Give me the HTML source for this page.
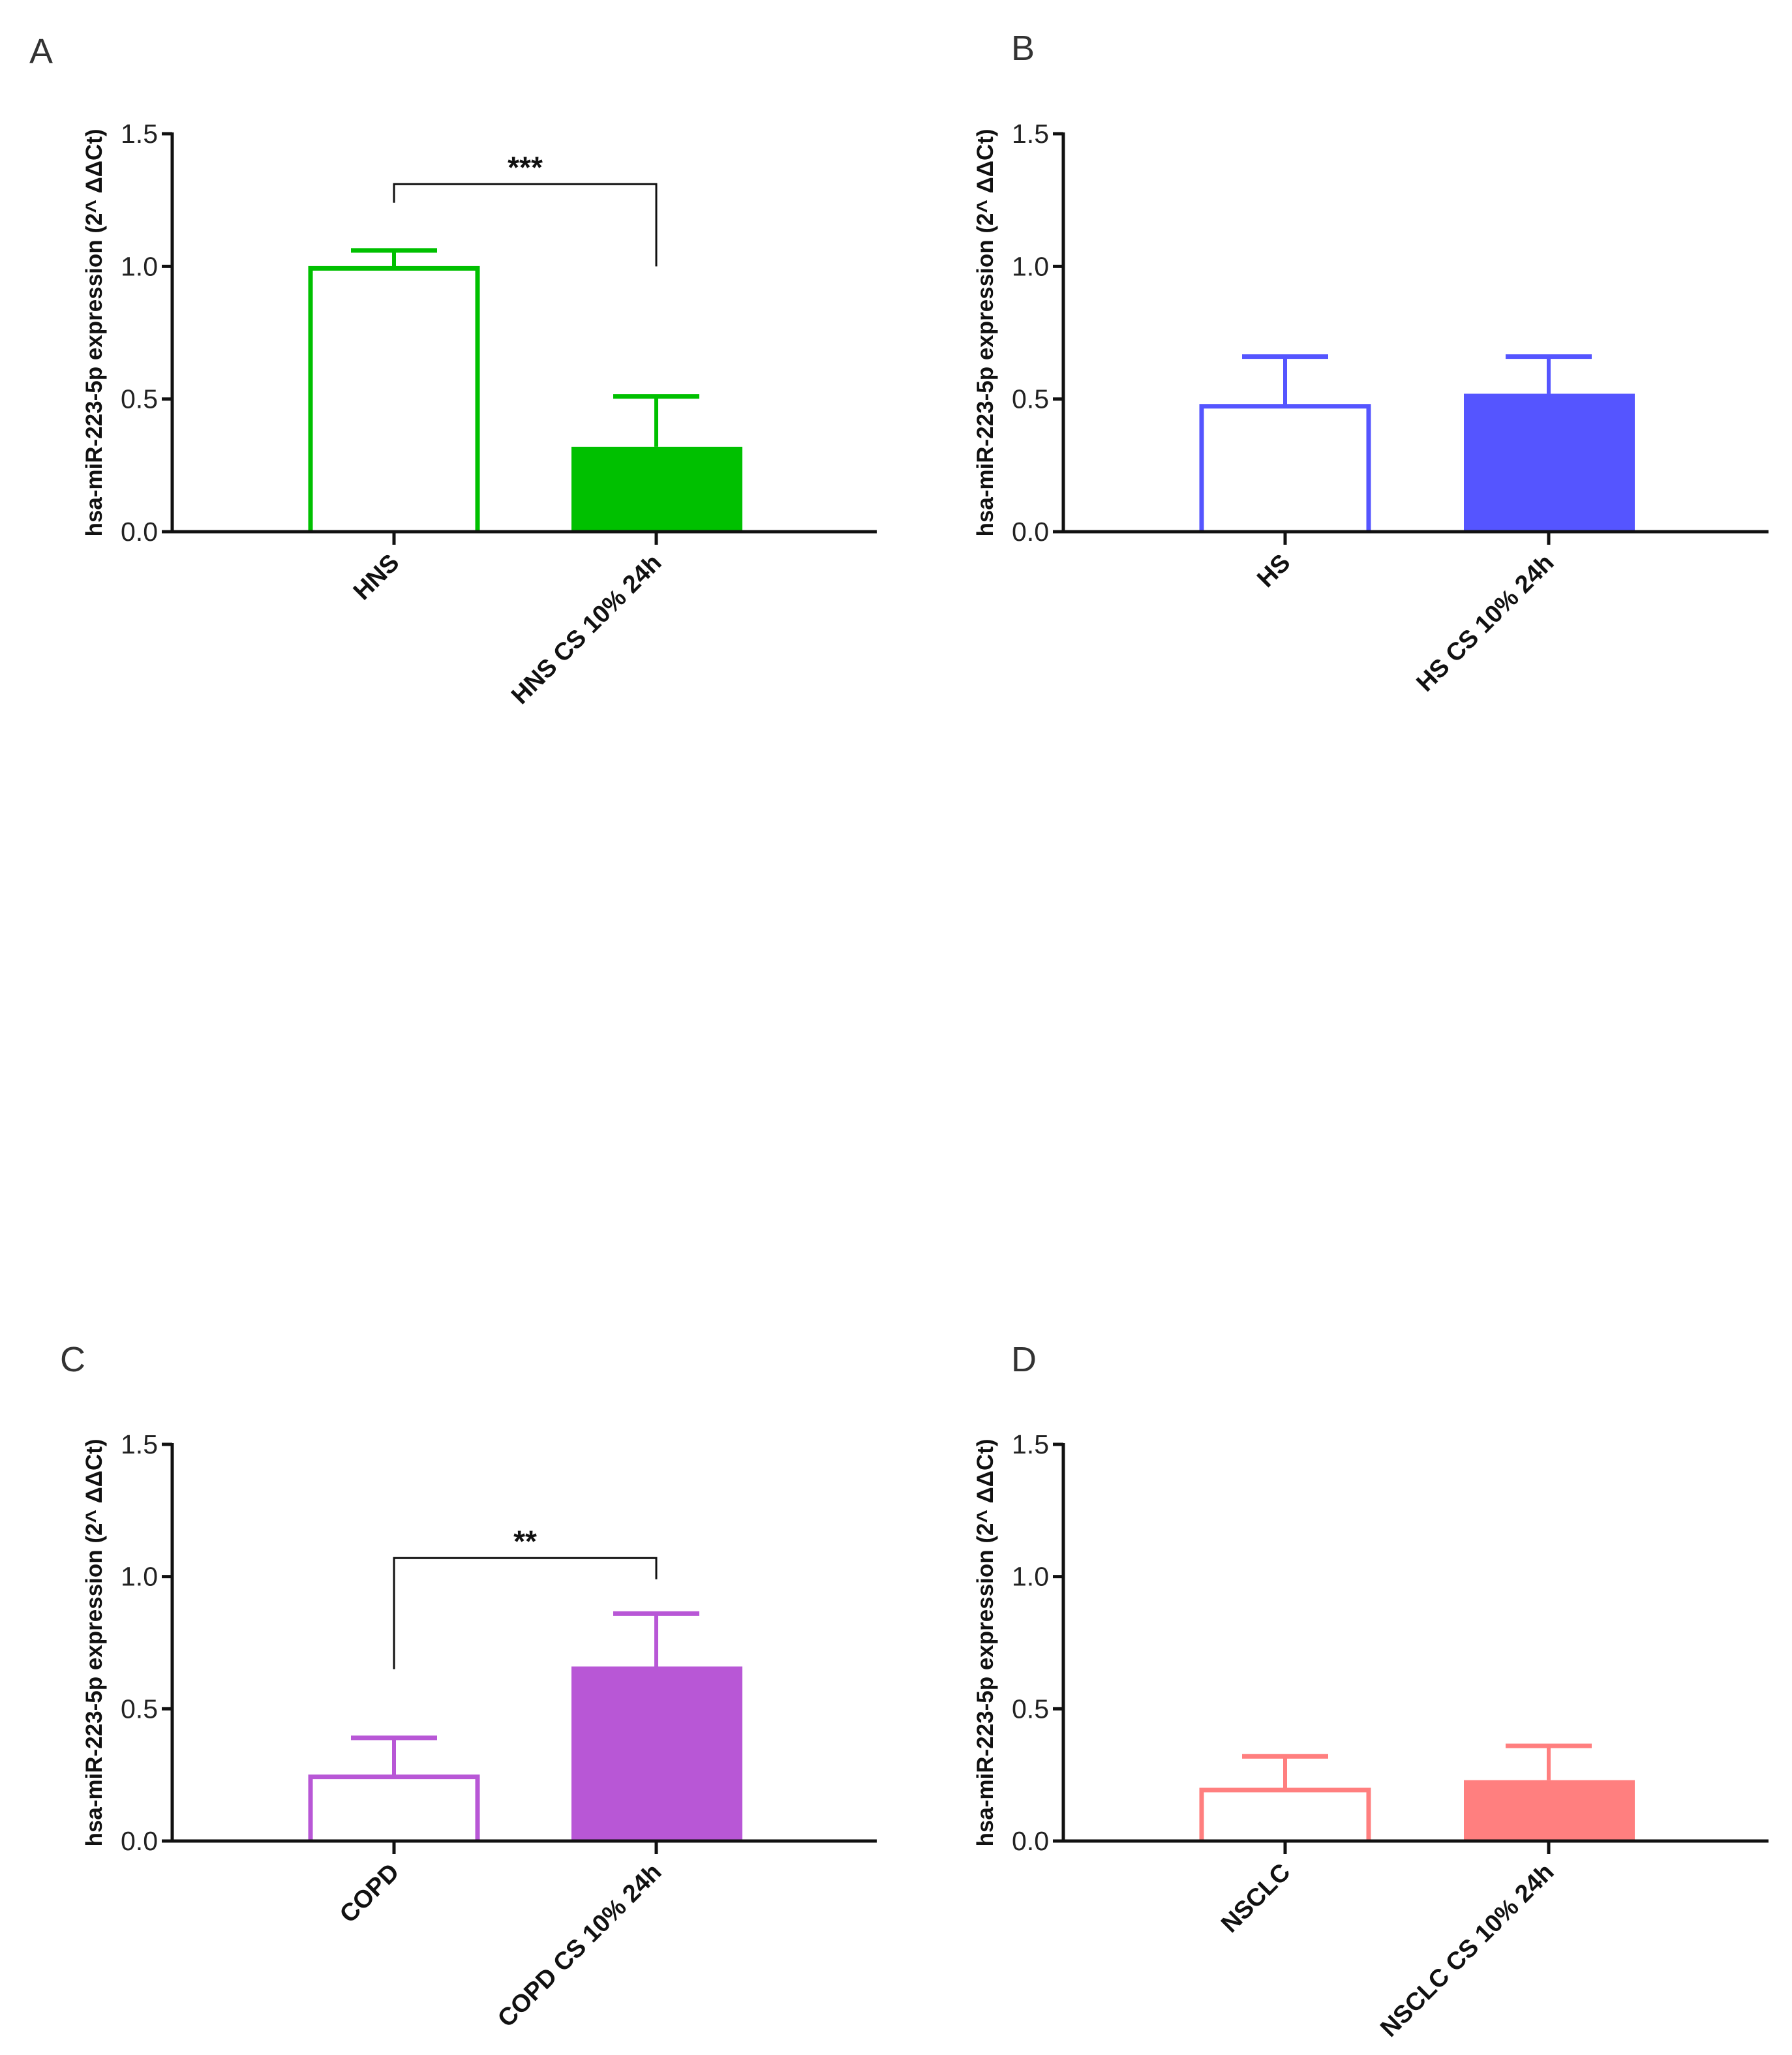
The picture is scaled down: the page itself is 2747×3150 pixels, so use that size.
<!DOCTYPE html>
<html><head><meta charset="utf-8"><style>
html,body{margin:0;padding:0;background:#fff;width:2747px;height:3150px;overflow:hidden}
svg text{font-family:"Liberation Sans",sans-serif}
</style></head><body>
<svg id="fig" width="2747" height="3150" xmlns="http://www.w3.org/2000/svg"></svg>
<script>
const panelLetters = ["A","B","C","D"];
const catsA = ["HNS","HNS CS 10% 24h"];
const catsB = ["HS","HS CS 10% 24h"];
const catsC = ["COPD","COPD CS 10% 24h"];
const catsD = ["NSCLC","NSCLC CS 10% 24h"];
const meansA = [1.0, 0.32];
const errsA = [1.06, 0.51];
const meansB = [0.48, 0.52];
const errsB = [0.66, 0.66];
const meansC = [0.25, 0.66];
const errsC = [0.39, 0.86];
const meansD = [0.20, 0.23];
const errsD = [0.32, 0.36];
const yTicks = [0.0, 0.5, 1.0, 1.5];
const yTickLabels = ["0.0","0.5","1.0","1.5"];
const sigA = {label:"***", y:1.31, left:1.24, right:1.0};
const sigC = {label:"**", y:1.07, left:0.65, right:0.99};

const NS="http://www.w3.org/2000/svg";
const svg=document.getElementById('fig');
function mk(tag,attrs,parent){const e=document.createElementNS(NS,tag);for(const k in attrs)e.setAttribute(k,attrs[k]);(parent||svg).appendChild(e);return e;}

const panels=[
 {L:panelLetters[0],cats:catsA,m:meansA,e:errsA,color:"#00c000",ax:264,y0:815,y15:205,right:1344,bx:[604,1006],letter:[45,97],sig:sigA},
 {L:panelLetters[1],cats:catsB,m:meansB,e:errsB,color:"#5555ff",ax:1630,y0:815,y15:205,right:2711,bx:[1970,2374],letter:[1550,92],sig:null},
 {L:panelLetters[2],cats:catsC,m:meansC,e:errsC,color:"#b857d6",ax:264,y0:2822,y15:2214,right:1344,bx:[604,1006],letter:[92,2102],sig:sigC},
 {L:panelLetters[3],cats:catsD,m:meansD,e:errsD,color:"#ff7f7f",ax:1630,y0:2822,y15:2214,right:2711,bx:[1970,2374],letter:[1550,2102],sig:null}
];
panels.forEach((p,pi)=>{
 const g=mk('g',{});
 
 
 const yS=v=>p.y0-(v/1.5)*(p.y0-p.y15);
 const lt=mk('text',{x:p.letter[0],y:p.letter[1],'font-size':54,fill:'#333'},g);lt.textContent=p.L;
 
 
 const bw=264;
 p.m.forEach((v,i)=>{
  const cx=p.bx[i];
  const er=mk('g',{},g);
  
  
  mk('line',{x1:cx,x2:cx,y1:yS(v),y2:yS(p.e[i]),stroke:p.color,'stroke-width':6},er);
  mk('line',{x1:cx-66,x2:cx+66,y1:yS(p.e[i]),y2:yS(p.e[i]),stroke:p.color,'stroke-width':7},er);
  let r;
  if(i==0){
   const x1=cx-bw/2+4,x2=cx+bw/2-4,yt=yS(v)+3;
   r=mk('polyline',{points:`${x1},${p.y0} ${x1},${yt} ${x2},${yt} ${x2},${p.y0}`,fill:'#fff',stroke:p.color,'stroke-width':7},g);
  } else {
   r=mk('rect',{x:cx-bw/2+2,y:yS(v),width:bw-2,height:p.y0-yS(v),fill:p.color},g);
  }
  
  
  mk('line',{x1:cx,x2:cx,y1:p.y0,y2:p.y0+20,stroke:'#111','stroke-width':5},g);
  const tl=mk('text',{x:0,y:0,'font-size':38,'font-weight':'bold','text-anchor':'end',fill:'#111',transform:`translate(${cx+10},${p.y0+50}) rotate(-45)`},g);
  tl.textContent=p.cats[i];
  
  
 });
 const ax=mk('g',{},g);
 
 
 mk('line',{x1:p.ax,x2:p.ax,y1:p.y15-2,y2:p.y0+2,stroke:'#111','stroke-width':5},ax);
 mk('line',{x1:p.ax-2,x2:p.right,y1:p.y0,y2:p.y0,stroke:'#111','stroke-width':5},ax);
 yTicks.forEach((t,k)=>{
  mk('line',{x1:p.ax-16,x2:p.ax,y1:yS(t),y2:yS(t),stroke:'#111','stroke-width':5},ax);
  const tx=mk('text',{x:p.ax-22,y:yS(t)+14,'font-size':41,'text-anchor':'end',fill:'#222','font-family':'Liberation Sans Narrow, Liberation Sans, sans-serif'},ax);
  tx.textContent=yTickLabels[k];
  
  
 });
 const yt=mk('text',{x:0,y:0,'font-size':35,'font-weight':'bold','text-anchor':'middle',fill:'#111',transform:`translate(${p.ax-108},${(p.y0+p.y15)/2}) rotate(-90)`},g);
 yt.textContent="hsa-miR-223-5p expression (2^ ΔΔCt)";
 
 
 if(p.sig){
  const s=p.sig;const sg=mk('g',{},g);
  
  
  mk('polyline',{points:`${p.bx[0]},${yS(s.left)} ${p.bx[0]},${yS(s.y)} ${p.bx[1]},${yS(s.y)} ${p.bx[1]},${yS(s.right)}`,fill:'none',stroke:'#111','stroke-width':3},sg);
  const st=mk('text',{x:(p.bx[0]+p.bx[1])/2,y:yS(s.y)-10,'font-size':46,'font-weight':'bold','text-anchor':'middle',fill:'#111'},sg);
  st.textContent=s.label;
 }
});
</script>
</body></html>
